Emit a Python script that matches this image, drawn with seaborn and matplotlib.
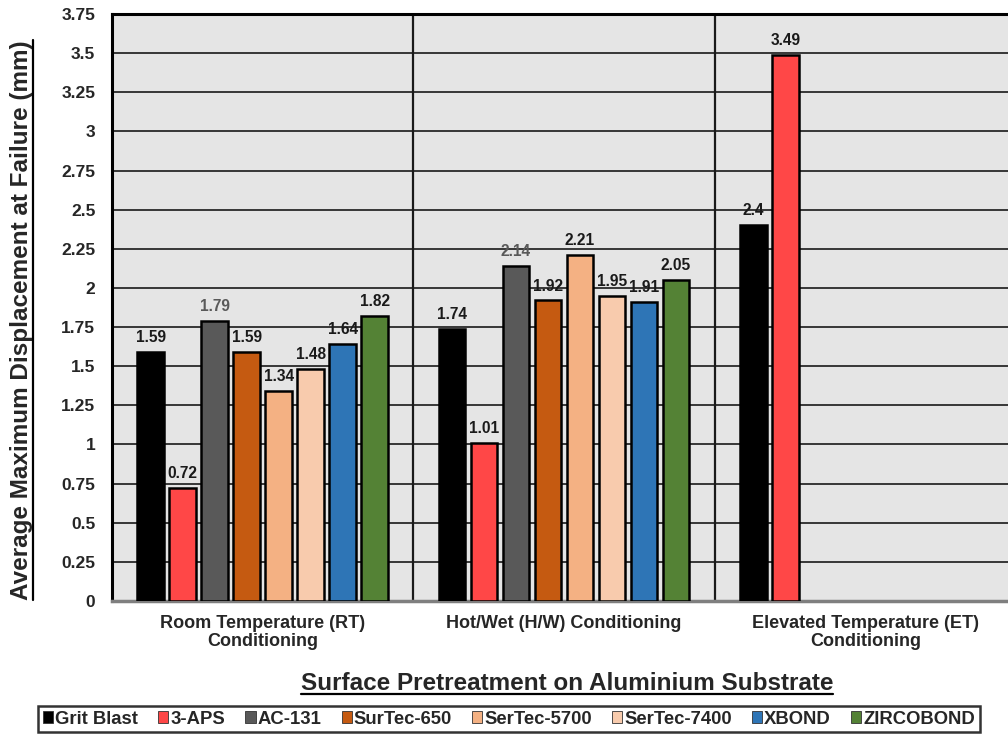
import numpy as np
import pandas as pd
import matplotlib
matplotlib.use("Agg")
import matplotlib.pyplot as plt
from matplotlib.patches import Patch
from matplotlib.lines import Line2D
import seaborn as sns

categories = ["Room Temperature (RT)\nConditioning", "Hot/Wet (H/W) Conditioning",
              "Elevated Temperature (ET)\nConditioning"]
treatments = ["Grit Blast", "3-APS", "AC-131", "SurTec-650", "SerTec-5700",
              "SerTec-7400", "XBOND", "ZIRCOBOND"]
rt_values = [1.59, 0.72, 1.79, 1.59, 1.34, 1.48, 1.64, 1.82]
hw_values = [1.74, 1.01, 2.14, 1.92, 2.21, 1.95, 1.91, 2.05]
et_values = [2.40, 3.49, None, None, None, None, None, None]
colors = ["#000000", "#ff4747", "#595959", "#c55a11", "#f4b183", "#f8cbad", "#2e75b6", "#548235"]
yticks = [0, 0.25, 0.5, 0.75, 1, 1.25, 1.5, 1.75, 2, 2.25, 2.5, 2.75, 3, 3.25, 3.5, 3.75]
ytick_labels = ["0", "0.25", "0.5", "0.75", "1", "1.25", "1.5", "1.75", "2", "2.25",
                "2.5", "2.75", "3", "3.25", "3.5", "3.75"]

rows = []
for cat, vals in zip(categories, [rt_values, hw_values, et_values]):
    for t, v in zip(treatments, vals):
        if v is not None:
            rows.append({"cat": cat, "treat": t, "val": v})
df = pd.DataFrame(rows)

sns.set_style("white")
plt.rcParams["font.family"] = ["Liberation Sans", "DejaVu Sans"]
plt.rcParams["font.weight"] = "bold"

fig = plt.figure(figsize=(10.08, 7.34), dpi=100)
W, H = 1008, 734
left, right, top, bottom = 112, 1016, 14, 601
ax = fig.add_axes([left / W, 1 - bottom / H, (right - left) / W, (bottom - top) / H])
ax.set_facecolor("#e5e5e5")

sns.barplot(data=df, x="cat", y="val", hue="treat", order=categories, hue_order=treatments,
            palette=colors, saturation=1, width=0.85, gap=0.17, edgecolor="black",
            linewidth=1.8, legend=False, ax=ax, zorder=3)

ax.set_ylim(0, 3.75)
ax.set_xlim(-0.5, 2.5)
ax.set_yticks(yticks)
ax.set_yticklabels(ytick_labels, fontsize=12.5, fontweight="bold")
ax.tick_params(axis="y", length=0, pad=12)
ax.tick_params(axis="x", length=0, pad=10)
ax.set_xticks(range(len(categories)))
ax.set_xticklabels(categories, fontsize=13, fontweight="bold", linespacing=1.1)
ax.set_xlabel("")
ax.set_ylabel("")
for y in yticks[1:]:
    ax.axhline(y, color="#1a1a1a", lw=1.2, zorder=1)
for xv in [0.5, 1.5]:
    ax.axvline(xv, color="#1a1a1a", lw=1.6, zorder=1)

for s in ["left", "top"]:
    ax.spines[s].set_color("black")
    ax.spines[s].set_linewidth(2.2)
ax.spines["bottom"].set_color("#7f7f7f")
ax.spines["bottom"].set_linewidth(2.5)
ax.spines["right"].set_visible(False)

for cont, t in zip(ax.containers, treatments):
    labs = [f"{v:g}" for v in cont.datavalues]
    ax.bar_label(cont, labels=labs, padding=5, fontsize=11.2, fontweight="bold",
                 color="#595959" if t == "AC-131" else "#1a1a1a", zorder=4)

ylab = fig.text(22 / W, 1 - 320 / H, "Average Maximum Displacement at Failure (mm)",
                rotation=90, ha="center", va="center", fontsize=17.5, fontweight="bold")
xlab = fig.text(567 / W, 1 - 683 / H, "Surface Pretreatment on Aluminium Substrate",
                ha="center", va="center", fontsize=17.5, fontweight="bold")

handles = [Patch(facecolor=c, edgecolor="#333333", lw=0.6) for c in colors]
leg = fig.legend(handles, treatments, loc="center", bbox_to_anchor=(509 / W, 1 - 719 / H),
                 ncol=8, frameon=True, fancybox=False, edgecolor="black",
                 prop={"weight": "bold", "size": 13.3}, handlelength=0.55, handleheight=0.55,
                 handletextpad=0.1, columnspacing=1.1, borderpad=0.25, borderaxespad=0)
leg.get_frame().set_linewidth(1.8)

fig.canvas.draw()
r = fig.canvas.get_renderer()
bb = xlab.get_window_extent(r)
fig.add_artist(Line2D([bb.x0 / W, bb.x1 / W], [(bb.y0 + 1) / H, (bb.y0 + 1) / H],
                      color="black", lw=1.6, transform=fig.transFigure))
bb = ylab.get_window_extent(r)
fig.add_artist(Line2D([(bb.x1 - 1) / W, (bb.x1 - 1) / W], [bb.y0 / H, bb.y1 / H],
                      color="black", lw=1.6, transform=fig.transFigure))

fig.savefig("out.png", dpi=100)
